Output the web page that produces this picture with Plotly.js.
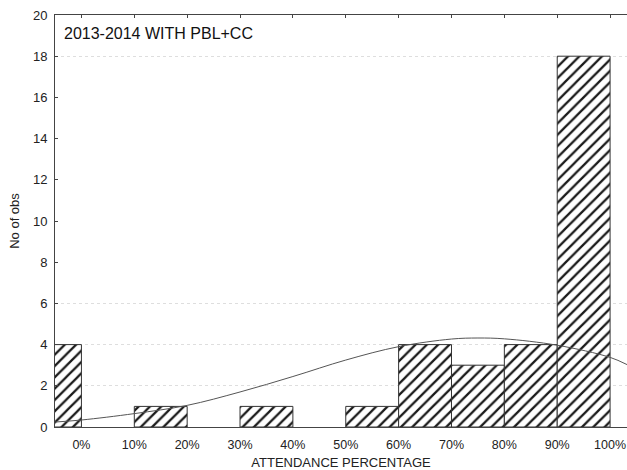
<!DOCTYPE html>
<html><head><meta charset="utf-8">
<script src="https://cdn.plot.ly/plotly-3.0.1.min.js"></script>
<style>html,body{margin:0;padding:0;background:#fff}#c{width:627px;height:470px}</style>
</head><body><div id="c"></div>
<script>
// Histogram bins (left edge of each 10% bin) and counts
var binStarts = [-10, 10, 30, 50, 60, 70, 80, 90];
var binCounts = [4, 1, 1, 1, 4, 3, 4, 18];
// Fitted normal curve
var curveX = [-5, 0, 10, 20, 30, 40, 50, 60, 70, 75, 80, 90, 100, 103.2];
var curveY = [0.24, 0.34, 0.65, 1.05, 1.7, 2.45, 3.25, 3.9, 4.27, 4.32, 4.28, 3.97, 3.38, 3.03];
var tickVals = [0, 10, 20, 30, 40, 50, 60, 70, 80, 90, 100];
var tickText = ['0%', '10%', '20%', '30%', '40%', '50%', '60%', '70%', '80%', '90%', '100%'];
var yTicks = [0, 2, 4, 6, 8, 10, 12, 14, 16, 18, 20];
var gridVals = [2, 4, 6, 18];

var bars = {
  type: 'bar',
  x: binStarts.map(function(s){ return s + 5; }),
  y: binCounts,
  width: 10,
  marker: {
    color: '#ffffff',
    line: {color: '#333333', width: 1},
    pattern: {shape: '/', fgcolor: '#1a1a1a', bgcolor: '#ffffff', size: 8, solidity: 0.28}
  },
  hoverinfo: 'skip'
};
var curve = {
  type: 'scatter', mode: 'lines',
  x: curveX, y: curveY,
  line: {color: '#555555', width: 1, shape: 'spline'},
  hoverinfo: 'skip'
};
var gridHelper = {
  type: 'scatter', mode: 'markers', x: [0], y: [0], xaxis: 'x2', yaxis: 'y2',
  marker: {opacity: 0}, hoverinfo: 'skip'
};

var font = 'Liberation Sans, Arial, sans-serif';
var layout = {
  width: 627, height: 470,
  margin: {l: 55, r: 0, t: 15, b: 43},
  paper_bgcolor: '#fff', plot_bgcolor: 'rgba(0,0,0,0)',
  showlegend: false,
  bargap: 0,
  font: {family: font, color: '#222', size: 13},
  xaxis: {
    range: [-5, 103.2], tickvals: tickVals, ticktext: tickText,
    showgrid: false, zeroline: false, showline: true, linecolor: '#444', linewidth: 1,
    ticks: '', ticklabelstandoff: 6, ticklabeloverflow: 'allow',
    tickfont: {size: 12.5, family: font, color: '#222'},
    title: {text: 'ATTENDANCE PERCENTAGE', font: {size: 13, family: font, color: '#222'}, standoff: 8}
  },
  xaxis2: {
    overlaying: 'x', matches: 'x', side: 'top', anchor: 'y',
    tickvals: tickVals, showticklabels: false, ticks: 'inside', ticklen: 3, tickcolor: '#444',
    showline: true, linecolor: '#444', linewidth: 1, showgrid: false, zeroline: false
  },
  yaxis: {
    range: [0, 20], tickvals: yTicks,
    showgrid: false, zeroline: false, showline: true, linecolor: '#444', linewidth: 1,
    ticks: 'inside', ticklen: 3, tickcolor: '#444', ticklabelstandoff: 4,
    tickfont: {size: 13, family: font, color: '#222'},
    title: {text: 'No of obs', font: {size: 13, family: font, color: '#222'}, standoff: 10}
  },
  yaxis2: {
    overlaying: 'y', matches: 'y', anchor: 'x', side: 'left',
    tickvals: gridVals, showticklabels: false, ticks: '',
    showgrid: true, gridcolor: '#dedede', griddash: 'dot', gridwidth: 1,
    showline: false, zeroline: false, layer: 'below traces'
  },
  annotations: [{
    xref: 'paper', yref: 'paper', x: 0.012, y: 0.99, yshift: -4, xanchor: 'left', yanchor: 'top',
    text: '2013-2014 WITH PBL+CC', showarrow: false,
    font: {size: 16, family: font, color: '#111'}
  }]
};
Plotly.newPlot('c', [gridHelper, bars, curve], layout, {staticPlot: true, displayModeBar: false});
</script></body></html>
